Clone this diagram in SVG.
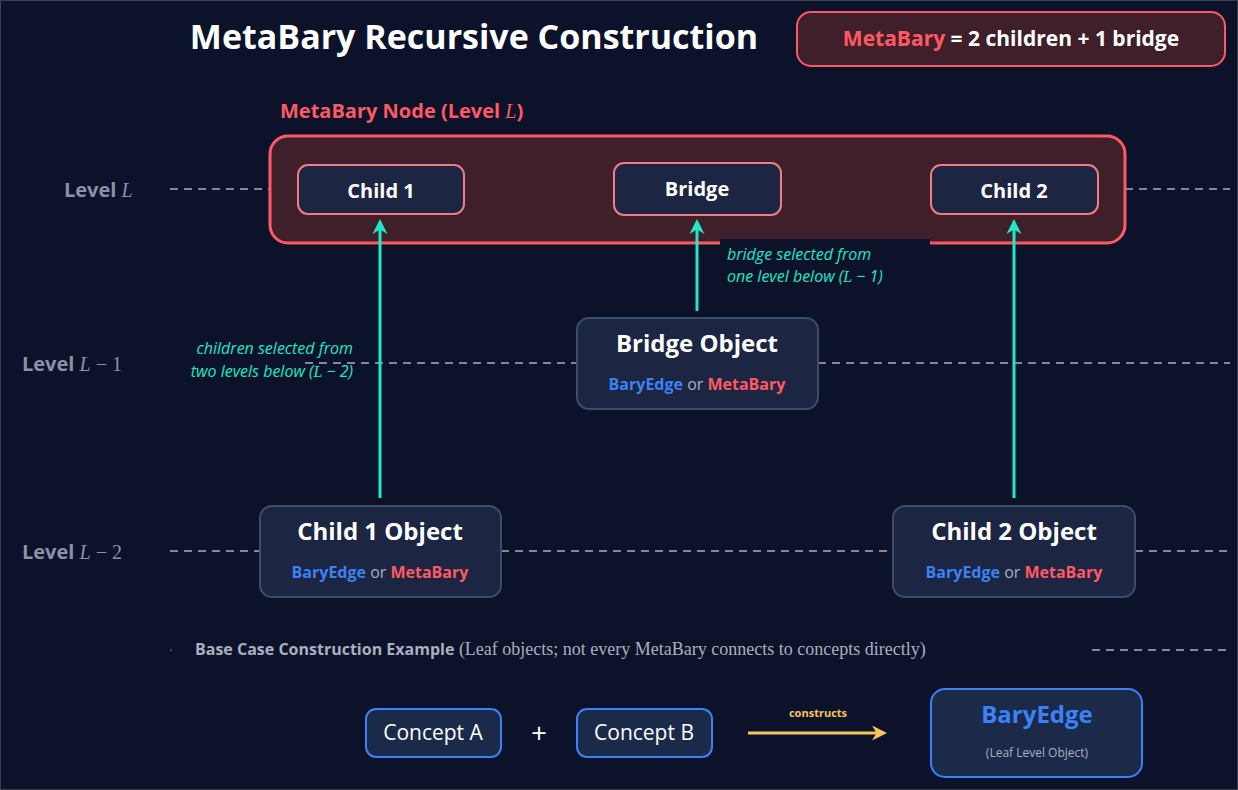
<svg xmlns="http://www.w3.org/2000/svg" width="1238" height="790" viewBox="0 0 1238 790">
<style>
text{font-family:"Open Sans","Noto Sans","Liberation Sans",sans-serif}
.b{font-weight:bold}
.m{font-family:"Liberation Serif","DejaVu Serif",serif;font-style:italic}
.dash{stroke:#aab0bf;stroke-width:1.5;stroke-dasharray:8 6;fill:none}
.lvl{fill:#8a93a6;font-size:20px;font-weight:bold}
.red{fill:#3f1f2a;stroke:#ff5a64}
.inner{fill:#1c2541;stroke:#f07c84;stroke-width:2}
.obj{fill:#1c2541;stroke:#3a4d6a;stroke-width:2}
.con{fill:#1c2a4a;stroke:#3b82f6;stroke-width:2}
.teal{stroke:#1de9c6;stroke-width:3;fill:none;marker-end:url(#ta)}
.tl{fill:#1de9c6;font-size:16px;font-style:italic}
.w{fill:#ffffff}
.be{fill:#3b82f6}
.mb{fill:#ff5a64}
</style>
<defs>
<marker id="ta" viewBox="0 0 10 10" refX="8" refY="5" markerWidth="5" markerHeight="6" orient="auto"><path d="M0,0 L10,5 L0,10 L3,5 z" fill="#1de9c6"/></marker>
<marker id="ya" viewBox="0 0 10 10" refX="8" refY="5" markerWidth="5" markerHeight="5" orient="auto"><path d="M0,0 L10,5 L0,10 L3,5 z" fill="#f7c65a"/></marker>
</defs>
<rect x="0" y="0" width="1238" height="790" fill="#0b1229"/>
<rect x="0.5" y="0.5" width="1237" height="789" fill="none" stroke="#3a3f4e"/>
<text x="474" y="49" text-anchor="middle" class="b w" font-size="34">MetaBary Recursive Construction</text>
<g id="formula">
<rect x="797" y="12" width="428" height="54" rx="14" class="red" stroke-width="2"/>
<text x="1011" y="46" text-anchor="middle" font-size="21" class="b"><tspan class="mb">MetaBary</tspan><tspan class="w"> = 2  children + 1  bridge</tspan></text>
</g>
<g id="levels">
<path class="dash" d="M170 189H270M1125 189H1230M305 363H577M818 363H1230M170 551H260M501 551H893M1135 551H1230M1092 650H1230"/>
<text x="64" y="197" class="lvl">Level <tspan class="m" font-weight="normal">L</tspan></text>
<text x="22" y="371" class="lvl">Level <tspan class="m" font-weight="normal">L</tspan><tspan font-weight="normal" font-family="Liberation Serif,serif"> − 1</tspan></text>
<text x="22" y="559" class="lvl">Level <tspan class="m" font-weight="normal">L</tspan><tspan font-weight="normal" font-family="Liberation Serif,serif"> − 2</tspan></text>
</g>
<g id="metabary-node">
<text x="280" y="118" class="b mb" font-size="20">MetaBary Node (Level <tspan class="m" font-weight="normal">L</tspan>)</text>
<rect x="270" y="136" width="855" height="107" rx="18" class="red" stroke-width="3"/>
<rect x="720" y="239" width="210" height="8" fill="#0b1229"/>
</g>
<g id="child1"><rect x="298" y="165" width="166" height="49" rx="10" class="inner"/><text x="381" y="198" text-anchor="middle" class="b w" font-size="20">Child 1</text></g>
<g id="bridge"><rect x="614" y="163" width="167" height="52" rx="10" class="inner"/><text x="697" y="196" text-anchor="middle" class="b w" font-size="20">Bridge</text></g>
<g id="child2"><rect x="931" y="165" width="167" height="49" rx="10" class="inner"/><text x="1014" y="198" text-anchor="middle" class="b w" font-size="20">Child 2</text></g>
<g id="bridge-object"><rect x="577" y="318" width="241" height="91" rx="12" class="obj"/><text x="697" y="352" text-anchor="middle" class="b w" font-size="24">Bridge Object</text><text x="697" y="390" text-anchor="middle" font-size="16" class="b"><tspan class="be">BaryEdge</tspan><tspan fill="#aab0bf" font-weight="normal"> or </tspan><tspan class="mb">MetaBary</tspan></text></g>
<g id="child1-object"><rect x="260" y="506" width="241" height="91" rx="12" class="obj"/><text x="380" y="540" text-anchor="middle" class="b w" font-size="24">Child 1 Object</text><text x="380" y="578" text-anchor="middle" font-size="16" class="b"><tspan class="be">BaryEdge</tspan><tspan fill="#aab0bf" font-weight="normal"> or </tspan><tspan class="mb">MetaBary</tspan></text></g>
<g id="child2-object"><rect x="893" y="506" width="242" height="91" rx="12" class="obj"/><text x="1014" y="540" text-anchor="middle" class="b w" font-size="24">Child 2 Object</text><text x="1014" y="578" text-anchor="middle" font-size="16" class="b"><tspan class="be">BaryEdge</tspan><tspan fill="#aab0bf" font-weight="normal"> or </tspan><tspan class="mb">MetaBary</tspan></text></g>
<g id="connectors">
<path class="teal" d="M380 498V222"/>
<path class="teal" d="M697 311V222"/>
<path class="teal" d="M1014 498V222"/>
<path d="M748 733H884" stroke="#f7c65a" stroke-width="3" marker-end="url(#ya)"/>
</g>
<g id="labels">
<text x="353" y="354" text-anchor="end" class="tl">children selected from</text>
<text x="353" y="377" text-anchor="end" class="tl">two levels below (<tspan class="m">L</tspan> − 2)</text>
<text x="727" y="260" class="tl">bridge selected from</text>
<text x="727" y="282" class="tl">one level below (<tspan class="m">L</tspan> − 1)</text>
<text x="818" y="717" text-anchor="middle" class="b" fill="#f7c65a" font-size="11">constructs</text>
</g>
<g id="base-case">
<circle cx="171" cy="650" r="0.8" fill="#8a93a6"/>
<text x="195" y="655" font-size="16" fill="#aab0bf"><tspan class="b">Base Case Construction Example</tspan><tspan font-family="Liberation Serif,serif" font-size="18"> (Leaf objects; not every MetaBary connects to concepts directly)</tspan></text>
</g>
<g id="concept-a"><rect x="366" y="709" width="135" height="48" rx="10" class="con"/><text x="433" y="740" text-anchor="middle" class="w" font-size="21">Concept A</text></g>
<text x="539" y="743" text-anchor="middle" class="w" font-size="28">+</text>
<g id="concept-b"><rect x="577" y="709" width="135" height="48" rx="10" class="con"/><text x="644" y="740" text-anchor="middle" class="w" font-size="21">Concept B</text></g>
<g id="baryedge"><rect x="931" y="689" width="211" height="88" rx="14" class="con" stroke-width="3"/><text x="1037" y="723" text-anchor="middle" class="b be" font-size="24">BaryEdge</text><text x="1037" y="757" text-anchor="middle" fill="#aab0bf" font-size="12">(Leaf Level Object)</text></g>
</svg>
